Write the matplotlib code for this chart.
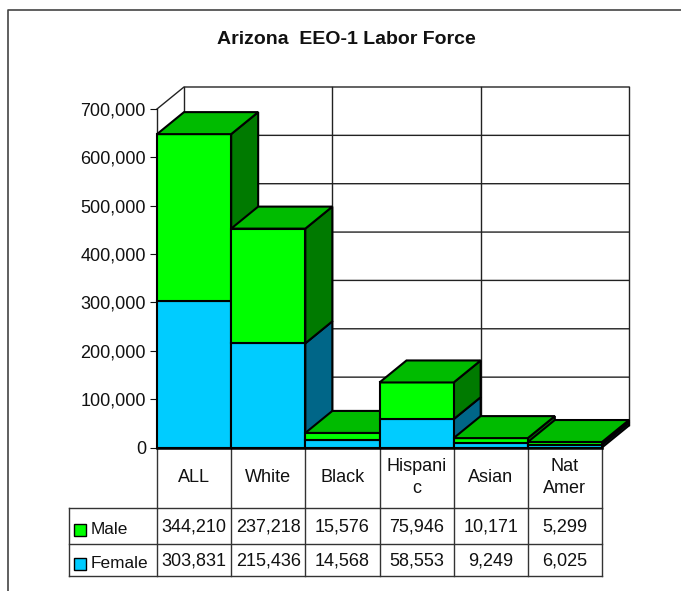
import matplotlib
matplotlib.use('Agg')
import matplotlib.pyplot as plt
from matplotlib.patches import Polygon, Rectangle
from matplotlib.ticker import FuncFormatter
from matplotlib.transforms import blended_transform_factory

plt.rcParams['font.family'] = ['Liberation Sans', 'DejaVu Sans']

categories = ['ALL', 'White', 'Black', 'Hispani\nc', 'Asian', 'Nat\nAmer']
male = [344210, 237218, 15576, 75946, 10171, 5299]
female = [303831, 215436, 14568, 58553, 9249, 6025]
y_ticks = [0, 100000, 200000, 300000, 400000, 500000, 600000, 700000]
title = 'Arizona  EEO-1 Labor Force'

# depth of the fake 3d, in data units
DX = 0.364
DY = 45500
BAR_LW = 1.5
GRID_LW = 1.0
MALE_COLS = ('#00ff00', '#007a00', '#00bb00')
FEMALE_COLS = ('#00ccff', '#006688', '#00bb00')

fig = plt.figure(figsize=(6.81, 5.91), dpi=100)

# overlay in pixel coordinates, for the frame and the table rows
tax = fig.add_axes([0, 0, 1, 1])
tax.set_xlim(0, 681)
tax.set_ylim(591, 0)
tax.axis('off')

ax = fig.add_axes([157 / 681, (591 - 447.5) / 591, 445 / 681, 338.5 / 591])
ax.set_xlim(0, 6)
ax.set_ylim(0, 700000)
ax.patch.set_visible(False)
for s in ax.spines.values():
    s.set_visible(False)
ax.set_xticks([])
ax.set_yticks(y_ticks)
ax.yaxis.set_major_formatter(FuncFormatter(lambda v, p: f'{int(v):,}'))
ax.tick_params(axis='y', length=5, width=0.8, pad=3, labelsize=13, colors='#111111')

# frame of the page
tax.plot([8, 8, 681], [591, 10, 10], color='#444444', lw=1.2, clip_on=False)

# back wall and grid
for v in y_ticks:
    ax.plot([0, DX, 6 + DX], [v, v + DY, v + DY], color='#222222', lw=GRID_LW, zorder=1, clip_on=False)
for x in [0, 2, 4, 6]:
    ax.plot([x + DX, x + DX], [DY, 700000 + DY], color='#222222', lw=GRID_LW, zorder=1, clip_on=False)
ax.plot([0, 0], [0, 700000], color='#222222', lw=GRID_LW, zorder=1, clip_on=False)


def box(i, bottom, top, cols, z, with_top):
    front, side, cap = cols
    side_pts = [(i + 1, bottom), (i + 1 + DX, bottom + DY), (i + 1 + DX, top + DY), (i + 1, top)]
    ax.add_patch(Polygon(side_pts, fc=side, ec='black', lw=BAR_LW, zorder=z, clip_on=False))
    ax.add_patch(Rectangle((i, bottom), 1, top - bottom, fc=front, ec='black', lw=BAR_LW, zorder=z + 0.1, clip_on=False))
    if with_top:
        top_pts = [(i, top), (i + DX, top + DY), (i + 1 + DX, top + DY), (i + 1, top)]
        ax.add_patch(Polygon(top_pts, fc=cap, ec='black', lw=BAR_LW, zorder=z + 0.2, clip_on=False))


# left to right so each bar covers the side of the one before
for i in range(len(categories)):
    z = 3 + i
    box(i, 0, female[i], FEMALE_COLS, z, False)
    box(i, female[i], female[i] + male[i], MALE_COLS, z + 0.3, True)
ax.plot([0, 6], [0, 0], color='black', lw=1.8, zorder=20, clip_on=False)

# data table
tr = blended_transform_factory(ax.transData, tax.transData)
LINE = '#333333'
for i in range(len(categories) + 1):
    tax.plot([i, i], [447, 576], color=LINE, lw=1.0, transform=tr, clip_on=False)
tax.plot([69, 69], [508, 576], color=LINE, lw=1.0)
for y in [508, 544, 576]:
    tax.plot([69, 602], [y, y], color=LINE, lw=1.0)

for i, c in enumerate(categories):
    tax.text(i + 0.5, 477.5, c, transform=tr, ha='center', va='center', fontsize=13,
             color='#111111', linespacing=1.45)
    tax.text(i + 0.5, 526.5, f'{male[i]:,}', transform=tr, ha='center', va='center', fontsize=13, color='#111111')
    tax.text(i + 0.5, 560.5, f'{female[i]:,}', transform=tr, ha='center', va='center', fontsize=13, color='#111111')

tax.add_patch(Rectangle((73.5, 523.5), 12, 12, fc=MALE_COLS[0], ec='black', lw=1.0))
tax.add_patch(Rectangle((73.5, 558), 12, 12, fc=FEMALE_COLS[0], ec='black', lw=1.0))
tax.text(91, 529, 'Male', ha='left', va='center', fontsize=12.4, color='#111111')
tax.text(91, 563, 'Female', ha='left', va='center', fontsize=12.4, color='#111111')

tax.text(346.5, 40, title, ha='center', va='center', fontsize=14, fontweight='bold', color='#111111')

fig.savefig('out.png', dpi=100)
